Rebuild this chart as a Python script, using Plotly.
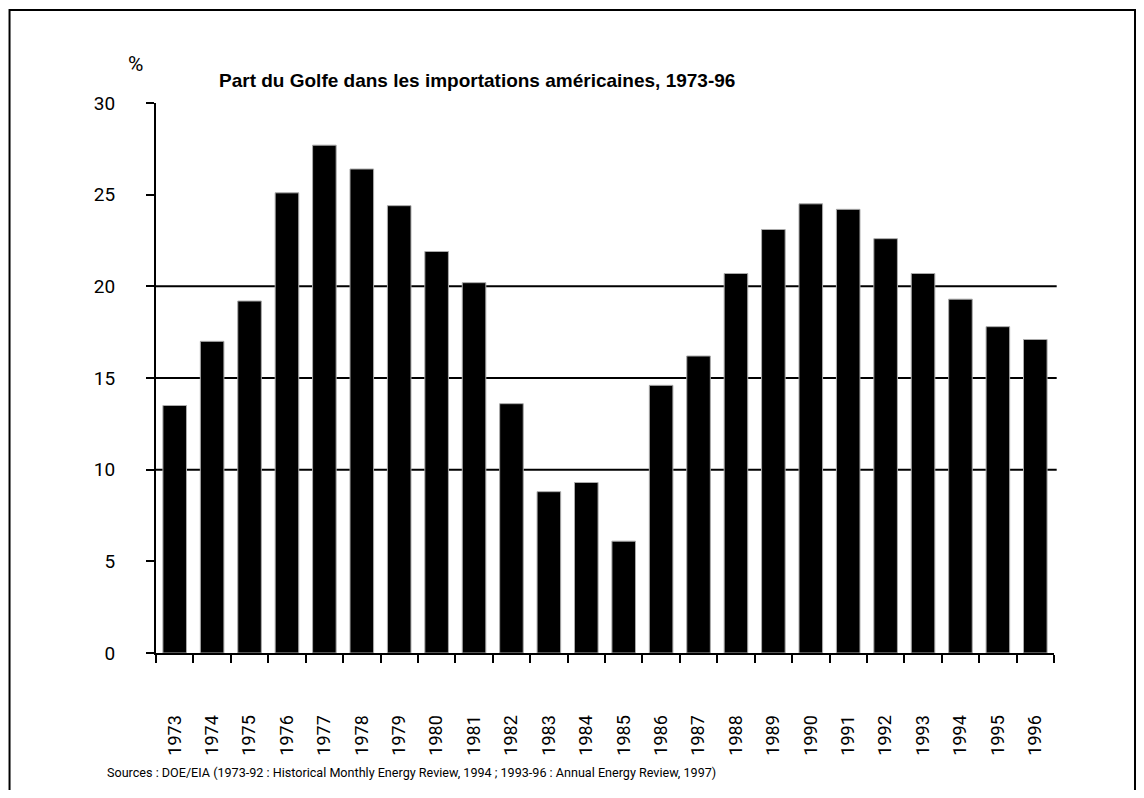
import plotly.graph_objects as go

years = [str(y) for y in range(1973, 1997)]
share = [13.5, 17.0, 19.2, 25.1, 27.7, 26.4, 24.4, 21.9, 20.2, 13.6, 8.8, 9.3,
         6.1, 14.6, 16.2, 20.7, 23.1, 24.5, 24.2, 22.6, 20.7, 19.3, 17.8, 17.1]
y_ticks = [0, 5, 10, 15, 20, 25, 30]
grid_levels = [10, 15, 20]

title_text = "Part du Golfe dans les importations américaines, 1973-96"
unit_text = "%"
source_text = ("Sources : DOE/EIA (1973-92 : Historical Monthly Energy Review, 1994 ; "
               "1993-96 : Annual Energy Review, 1997)")

NARROW = "Roboto, Liberation Sans, Arial, sans-serif"
ARIAL = "Liberation Sans, Arial, sans-serif"

fig = go.Figure()
fig.add_trace(go.Bar(
    x=years, y=share,
    marker=dict(color="black", line=dict(color="rgb(170,170,170)", width=1)),
    width=0.63,
))

shapes = []
for g in grid_levels:
    shapes.append(dict(type="line", xref="paper", yref="y", x0=0, x1=1.003, y0=g, y1=g,
                       line=dict(color="black", width=2), layer="below"))
# outer frame
shapes.append(dict(type="rect", xref="paper", yref="paper",
                   x0=-0.1631, x1=1.0902, y0=-0.30, y1=1.169,
                   line=dict(color="black", width=2), layer="below"))

fig.update_layout(
    width=1128, height=782,
    margin=dict(l=148, r=82, t=95, b=137),
    paper_bgcolor="white", plot_bgcolor="white",
    showlegend=False,
    shapes=shapes,
    font=dict(family=NARROW, color="black", size=18),
    xaxis=dict(
        type="category",
        showline=True, linecolor="black", linewidth=2,
        ticks="outside", ticklen=8, tickwidth=2, tickcolor="black",
        tickson="boundaries", tickangle=-90,
        ticklabelstandoff=53,
        showgrid=False, zeroline=False,
        tickfont=dict(family=NARROW, size=18, color="black"),
    ),
    yaxis=dict(
        range=[0, 30], tickvals=y_ticks,
        showline=True, linecolor="black", linewidth=2,
        ticks="outside", ticklen=8, tickwidth=2, tickcolor="black",
        ticklabelstandoff=27,
        showgrid=False, zeroline=False,
        tickfont=dict(family=NARROW, size=19, color="black"),
    ),
    annotations=[
        dict(text=title_text, xref="paper", yref="paper", x=0.0679, y=1.04,
             xanchor="left", yanchor="middle", showarrow=False,
             font=dict(family=ARIAL, size=19, color="black", weight="bold")),
        dict(text=unit_text, xref="paper", yref="paper", x=-0.0223, y=1.0709,
             xanchor="center", yanchor="middle", showarrow=False,
             font=dict(family=NARROW, size=21, color="black")),
        dict(text=source_text, xref="paper", yref="paper", x=-0.0568, y=-0.2164,
             xanchor="left", yanchor="middle", showarrow=False,
             font=dict(family=NARROW, size=12.6, color="black")),
    ],
)

fig.write_html("out.html")
